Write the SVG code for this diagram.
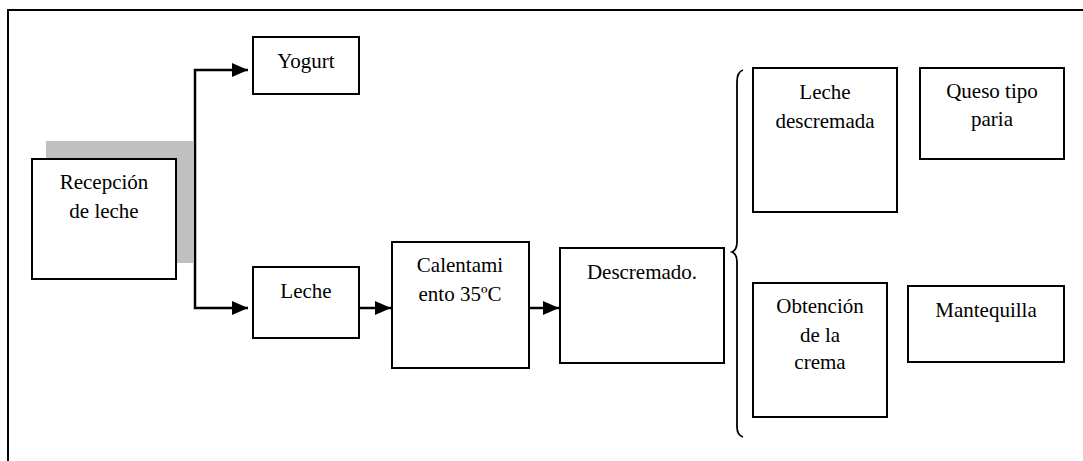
<svg xmlns="http://www.w3.org/2000/svg" width="1083" height="461" viewBox="0 0 1083 461">
  <style>
    .box { fill: #ffffff; stroke: #000000; stroke-width: 2; }
    .lbl { font-family: 'Liberation Serif', 'DejaVu Serif', serif; font-size: 21px; fill: #000000; text-anchor: middle; }
    .wire { fill: none; stroke: #000000; stroke-width: 2.5; }
    .frame { fill: none; stroke: #000000; stroke-width: 2; }
  </style>
  <defs>
    <marker id="arrow" markerUnits="userSpaceOnUse" markerWidth="16" markerHeight="14" refX="16" refY="7" orient="auto">
      <path d="M0,0 L16,7 L0,14 Z" fill="#000000"/>
    </marker>
  </defs>

  <rect width="1083" height="461" fill="#ffffff"/>

  <!-- page frame: top and left edges only -->
  <path class="frame" d="M8,461 V10 H1083"/>

  <!-- intake node with its grey drop shadow -->
  <g id="recepcion">
    <rect x="46" y="141" width="147" height="122" fill="#c0c0c0"/>
    <rect class="box" x="32" y="159" width="144" height="120"/>
    <text class="lbl" font-family="Liberation Serif, serif" x="104" y="189">Recepción</text>
    <text class="lbl" font-family="Liberation Serif, serif" x="104" y="218">de leche</text>
  </g>

  <g id="yogurt">
    <rect class="box" x="253" y="37" width="106" height="57"/>
    <text class="lbl" x="306" y="68">Yogurt</text>
  </g>

  <g id="leche">
    <rect class="box" x="253" y="267" width="106" height="71"/>
    <text class="lbl" x="306" y="298">Leche</text>
  </g>

  <g id="calentamiento">
    <rect class="box" x="392" y="242" width="137" height="126"/>
    <text class="lbl" x="460" y="272">Calentami</text>
    <text class="lbl" x="460" y="301">ento 35ºC</text>
  </g>

  <g id="descremado">
    <rect class="box" x="560" y="248" width="164" height="115"/>
    <text class="lbl" x="642" y="279">Descremado.</text>
  </g>

  <!-- curly brace grouping the two outputs of skimming -->
  <g id="llave">
    <path fill="none" stroke="#000000" stroke-width="1.8" d="M743,70 Q737,72 737,82 V242 Q737,250 732,252 Q737,254 737,262 V427 Q737,435 743,437"/>
  </g>

  <g id="leche-descremada">
    <rect class="box" x="753" y="68" width="144" height="144"/>
    <text class="lbl" x="825" y="99">Leche</text>
    <text class="lbl" x="825" y="128">descremada</text>
  </g>

  <g id="queso">
    <rect class="box" x="920" y="68" width="144" height="91"/>
    <text class="lbl" x="992" y="98">Queso tipo</text>
    <text class="lbl" x="992" y="126">paria</text>
  </g>

  <g id="crema">
    <rect class="box" x="753" y="283" width="134" height="134"/>
    <text class="lbl" x="820" y="313">Obtención</text>
    <text class="lbl" x="820" y="342">de la</text>
    <text class="lbl" x="820" y="369">crema</text>
  </g>

  <g id="mantequilla">
    <rect class="box" x="908" y="286" width="156" height="76"/>
    <text class="lbl" x="986" y="317">Mantequilla</text>
  </g>

  <g id="connectors">
    <path class="wire" d="M195,190 V70 H248" marker-end="url(#arrow)"/>
    <path class="wire" d="M195,190 V308 H248" marker-end="url(#arrow)"/>
    <path class="wire" d="M359,308 H391" marker-end="url(#arrow)"/>
    <path class="wire" d="M529,308 H559" marker-end="url(#arrow)"/>
  </g>
</svg>
